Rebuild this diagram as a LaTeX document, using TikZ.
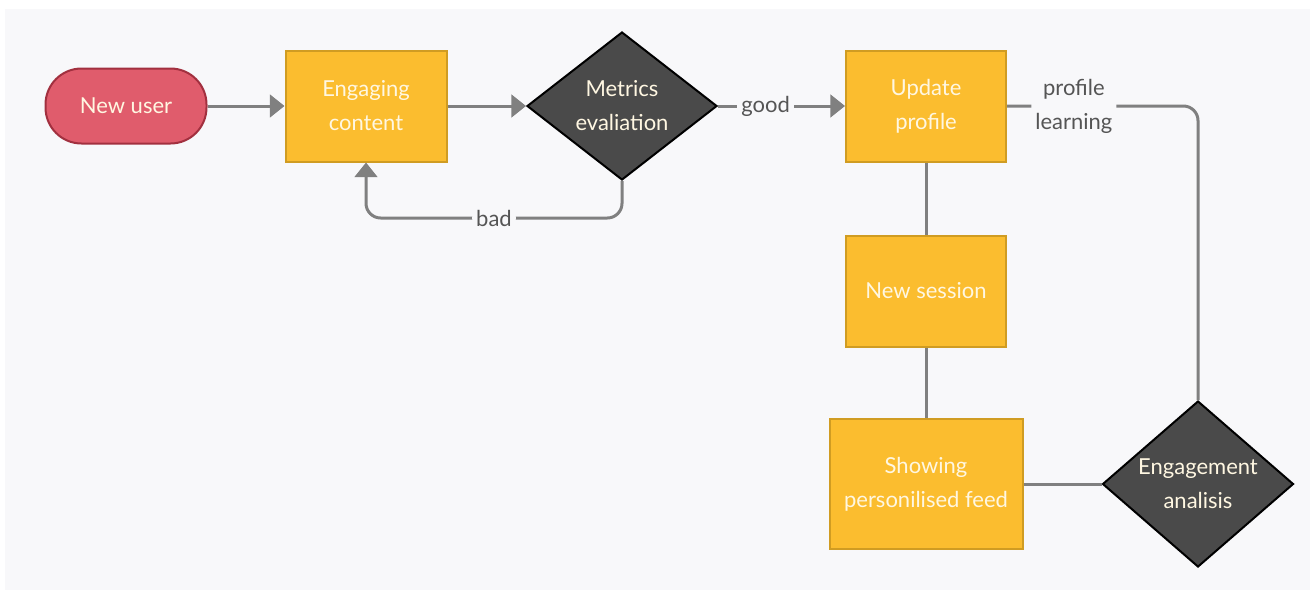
\documentclass[tikz,border=0pt]{standalone}
\usepackage{fontspec}
\setmainfont{Lato}
\usetikzlibrary{shapes.geometric,arrows.meta}
\definecolor{bgpanel}{HTML}{F8F8FA}
\definecolor{redfill}{HTML}{E05C6C}
\definecolor{reddraw}{HTML}{A2303F}
\definecolor{yelfill}{HTML}{FBBD2F}
\definecolor{yeldraw}{HTML}{D09C22}
\definecolor{darkfill}{HTML}{4A4A4A}
\definecolor{linegray}{HTML}{808080}
\definecolor{lbltext}{HTML}{555555}
\definecolor{boxtext}{HTML}{FFF7E2}
\begin{document}
\begin{tikzpicture}[x=0.75pt,y=-0.75pt,
  txt/.style={font=\fontsize{16.5}{25.5}\selectfont, align=center, text=boxtext},
  startbox/.style={txt, draw=reddraw, fill=redfill, line width=1.5pt, rounded corners=27pt,
    minimum width=120.75pt, minimum height=56.25pt, inner sep=0pt},
  procbox/.style={txt, draw=yeldraw, fill=yelfill, line width=1.5pt,
    minimum width=120pt, minimum height=83.25pt, inner sep=0pt},
  decbox/.style={txt, diamond, draw=black, fill=darkfill, line width=1.5pt, inner sep=0pt},
  conn/.style={draw=linegray, line width=2.25pt},
  arr/.style={conn, -{Triangle[length=11pt,width=17pt]}},
  lbl/.style={font=\fontsize{16.5}{25.5}\selectfont, align=center, text=lbltext, fill=bgpanel, inner sep=3pt}
]
\useasboundingbox (0,0) rectangle (1316,597);
\fill[white] (0,0) rectangle (1316,597);
\fill[bgpanel] (5,9) rectangle (1310,590);

\node[startbox] (nu) at (126,106) {New user};
\node[procbox, minimum width=120.75pt] (ec) at (366,106) {Engaging\\content};
\node[decbox, aspect=1.28, minimum width=142.5pt, minimum height=111pt] (me) at (622,106) {Metrics\\evaliation};
\node[procbox] (up) at (926,106) {Update\\profile};
\node[procbox] (ns) at (926,291) {New session};
\node[procbox, minimum width=144.75pt, minimum height=97.5pt] (sf) at (926,484) {Showing\\personilised feed};
\node[decbox, aspect=1.15, minimum width=143.25pt, minimum height=124.5pt] (ea) at (1198,484) {Engagement\\analisis};

\coordinate (badc) at (366,218);

\draw[arr] (nu) -- (ec);
\draw[arr] (ec) -- (me);
\draw[arr] (me) -- node[pos=0.375, lbl]{good} (up);
\draw[arr, rounded corners=11pt] (me.south) |- node[pos=0.75, lbl]{bad} (badc) -- (ec.south);
\draw[conn, rounded corners=11pt] (up.east) -| node[pos=0.175, lbl]{profile\\learning} (ea.north);
\draw[conn] (up) -- (ns);
\draw[conn] (ns) -- (sf);
\draw[conn] (sf) -- (ea);
\end{tikzpicture}
\end{document}
